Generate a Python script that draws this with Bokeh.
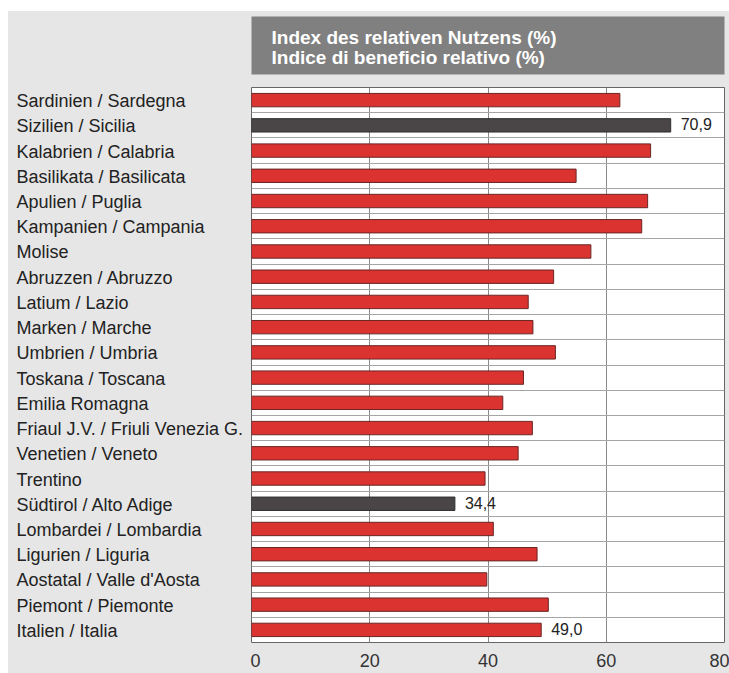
from bokeh.plotting import figure
from bokeh.layouts import column, row
from bokeh.models import ColumnDataSource, LabelSet, FixedTicker, Range1d, Spacer
from bokeh.core.properties import value
from bokeh.embed import file_html
from bokeh.resources import INLINE

regions = [
    "Sardinien / Sardegna", "Sizilien / Sicilia", "Kalabrien / Calabria",
    "Basilikata / Basilicata", "Apulien / Puglia", "Kampanien / Campania",
    "Molise", "Abruzzen / Abruzzo", "Latium / Lazio", "Marken / Marche",
    "Umbrien / Umbria", "Toskana / Toscana", "Emilia Romagna",
    "Friaul J.V. / Friuli Venezia G.", "Venetien / Veneto", "Trentino",
    "Südtirol / Alto Adige", "Lombardei / Lombardia", "Ligurien / Liguria",
    "Aostatal / Valle d'Aosta", "Piemont / Piemonte", "Italien / Italia",
]
values = [62.3, 70.9, 67.5, 54.9, 67.0, 66.0, 57.4, 51.1, 46.8, 47.6,
          51.4, 46.0, 42.5, 47.5, 45.1, 39.5, 34.4, 40.9, 48.3, 39.8, 50.2, 49.0]
highlight = [False, True] + [False] * 14 + [True] + [False] * 5
labelled = ["Sizilien / Sicilia", "Südtirol / Alto Adige", "Italien / Italia"]
x_ticks = [0, 20, 40, 60, 80]
title_lines = ["Index des relativen Nutzens (%)", "Indice di beneficio relativo (%)"]

RED = "#da3330"
DARK = "#4a4647"
BG = "#e6e6e6"
FONT = "Liberation Sans"

n = len(regions)
ypos = [i + 0.5 for i in range(n)]
fills = [DARK if h else RED for h in highlight]
lines = ["#2e2e2e" if h else "#6a2626" for h in highlight]

src = ColumnDataSource(dict(region=regions, value=values, y=ypos, fill=fills, line=lines))
lab_idx = [regions.index(r) for r in labelled]
lab_src = ColumnDataSource(dict(
    x=[values[i] for i in lab_idx],
    y=[ypos[i] for i in lab_idx],
    text=[f"{values[i]:.1f}".replace(".", ",") for i in lab_idx],
))

x_range = Range1d(0, 80)
y_range = Range1d(n, 0)


def bare(fig):
    fig.xaxis.visible = False
    fig.yaxis.visible = False
    fig.xgrid.visible = False
    fig.ygrid.visible = False
    fig.outline_line_color = None
    fig.border_fill_color = BG


# ---- header ----
hdr = figure(width=721, height=75, output_backend="svg", toolbar_location=None,
             x_range=x_range, y_range=Range1d(0, 1),
             min_border_left=243, min_border_right=5, min_border_top=5, min_border_bottom=12)
bare(hdr)
hdr.background_fill_color = "#808080"
hdr.text(x=[0, 0], y=[0.638, 0.293], text=title_lines, x_offset=20,
         text_font=value(FONT), text_font_size="19px", text_font_style="bold",
         text_color="white", text_baseline="middle", text_align="left")

# ---- category labels ----
left = figure(width=242, height=587, output_backend="svg", toolbar_location=None,
              x_range=Range1d(0, 1), y_range=y_range,
              min_border_left=0, min_border_right=0, min_border_top=1, min_border_bottom=31)
bare(left)
left.background_fill_color = BG
left.text(x=[0] * n, y=ypos, text=regions, x_offset=8, y_offset=1,
          text_font=value(FONT), text_font_size="18px", text_color="#222222",
          text_baseline="middle", text_align="left")

# ---- bars ----
p = figure(width=479, height=587, output_backend="svg", toolbar_location=None,
           x_range=x_range, y_range=y_range,
           min_border_left=1, min_border_right=5, min_border_top=1, min_border_bottom=31)
p.background_fill_color = "white"
p.border_fill_color = BG
p.outline_line_color = "#666666"
p.outline_line_width = 1

p.hbar(y="y", left=0, right="value", height=0.53, source=src,
       fill_color="fill", line_color="line", line_width=1)

p.yaxis.visible = False
xa = p.xaxis[0]
xa.ticker = FixedTicker(ticks=x_ticks)
xa.axis_line_color = None
xa.major_tick_line_color = None
xa.minor_tick_line_color = None
xa.major_tick_out = 0
xa.major_tick_in = 0
xa.major_label_standoff = 11
xa.major_label_text_font = FONT
xa.major_label_text_font_size = "18px"
xa.major_label_text_color = "#333333"

p.xgrid.ticker = FixedTicker(ticks=x_ticks[1:-1])
p.xgrid.grid_line_color = "#8a8a8a"
p.ygrid.ticker = FixedTicker(ticks=list(range(n + 1)))
p.ygrid.grid_line_color = "#a5a5a5"

p.add_layout(LabelSet(x="x", y="y", text="text", source=lab_src, x_offset=10, y_offset=1,
                      text_font=value(FONT), text_font_size="16px",
                      text_color="#222222", text_baseline="middle", text_align="left"))

lower = row(left, p, spacing=0, styles={"background-color": BG})
body = column(hdr, lower, spacing=0, styles={"background-color": BG})
layout = column(Spacer(height=11), row(Spacer(width=8), body, spacing=0), spacing=0)
open("out.html", "w").write(file_html(layout, INLINE))
